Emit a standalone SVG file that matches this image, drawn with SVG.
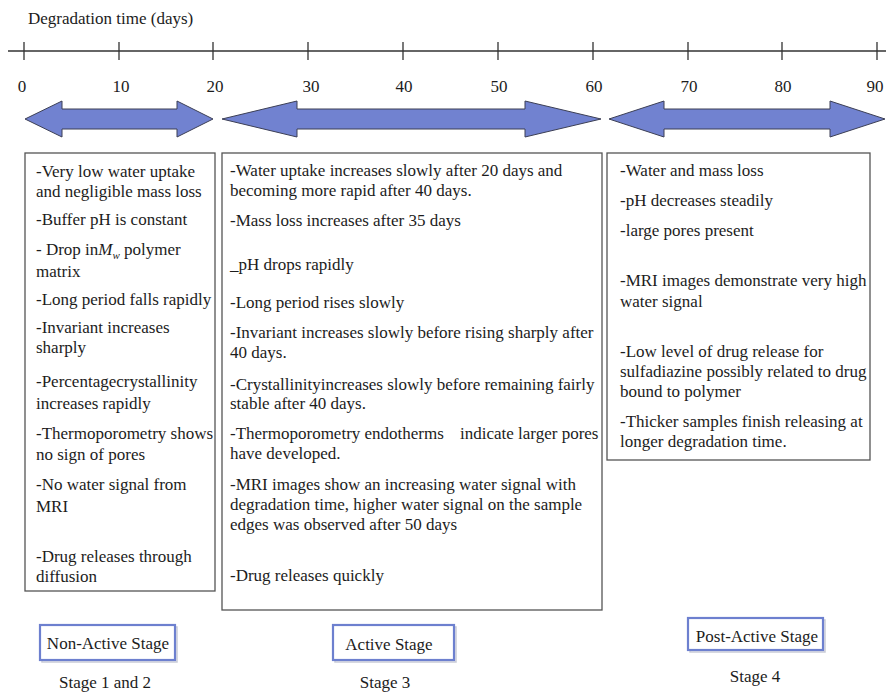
<svg xmlns="http://www.w3.org/2000/svg" width="886" height="694" viewBox="0 0 886 694">
<style>
text{font-family:"Liberation Serif","Times New Roman",serif;font-size:17px;fill:#1c1c1c}
.box{fill:#fff;stroke:#555;stroke-width:1.3}
.stage{fill:#fff;stroke:#6d80cf;stroke-width:2.2}
.shadow{fill:none;stroke:#c9cbd6;stroke-width:1.5}
.arrow{fill:#7182d0;stroke:#3c3f55;stroke-width:1}
.axis{stroke:#333;stroke-width:1.3;fill:none}
.mid{text-anchor:middle}
</style>
<rect width="886" height="694" fill="#fff"/>
<g id="axis">
<text x="28" y="24">Degradation time (days)</text>
<line class="axis" x1="8" y1="51" x2="886" y2="51"/>
<path class="axis" d="M24 42V60M119 42V60M213 42V60M308 42V60M403 42V60M498 42V60M593 42V60M688 42V60M782 42V60M877 42V60"/>
<text class="mid" x="22" y="92">0</text>
<text class="mid" x="121" y="92">10</text>
<text class="mid" x="215" y="92">20</text>
<text class="mid" x="311" y="92">30</text>
<text class="mid" x="404" y="92">40</text>
<text class="mid" x="499" y="92">50</text>
<text class="mid" x="594" y="92">60</text>
<text class="mid" x="689" y="92">70</text>
<text class="mid" x="783" y="92">80</text>
<text class="mid" x="875" y="92">90</text>
</g>
<g id="connectors">
<polygon class="arrow" points="25,119 62,101 62,109 177,109 177,101 213,119 177,137 177,129 62,129 62,137"/>
<polygon class="arrow" points="222,119 297,101 297,109 525,109 525,101 601,119 525,137 525,129 297,129 297,137"/>
<polygon class="arrow" points="609,119 664,101 664,109 830,109 830,101 885,119 830,137 830,129 664,129 664,137"/>
</g>
<g id="stage12-box">
<rect class="box" x="25" y="153" width="190" height="438"/>
<text x="36" y="177">-Very low water uptake</text>
<text x="36" y="197">and negligible mass loss</text>
<text x="36" y="225">-Buffer pH is constant</text>
<text x="36" y="255">- Drop in<tspan font-style="italic">M</tspan><tspan font-size="11" font-style="italic" dy="4">w</tspan><tspan dy="-4"> polymer</tspan></text>
<text x="36" y="277">matrix</text>
<text x="36" y="305">-Long period falls rapidly</text>
<text x="36" y="333">-Invariant increases</text>
<text x="36" y="353">sharply</text>
<text x="36" y="387">-Percentagecrystallinity</text>
<text x="36" y="409">increases rapidly</text>
<text x="36" y="439">-Thermoporometry shows</text>
<text x="36" y="460">no sign of pores</text>
<text x="36" y="490">-No water signal from</text>
<text x="36" y="512">MRI</text>
<text x="36" y="562">-Drug releases through</text>
<text x="36" y="582">diffusion</text>
</g>
<g id="stage3-box">
<rect class="box" x="222" y="153" width="380" height="457"/>
<text x="230" y="176">-Water uptake increases slowly after 20 days and</text>
<text x="230" y="196">becoming more rapid after 40 days.</text>
<text x="230" y="226">-Mass loss increases after 35 days</text>
<text x="230" y="270">_pH drops rapidly</text>
<text x="230" y="308">-Long period rises slowly</text>
<text x="230" y="338">-Invariant increases slowly before rising sharply after</text>
<text x="230" y="358">40 days.</text>
<text x="230" y="390">-Crystallinityincreases slowly before remaining fairly</text>
<text x="230" y="409">stable after 40 days.</text>
<text x="230" y="439">-Thermoporometry endotherms<tspan x="460">indicate larger pores</tspan></text>
<text x="230" y="459">have developed.</text>
<text x="230" y="490">-MRI images show an increasing water signal with</text>
<text x="230" y="510">degradation time, higher water signal on the sample</text>
<text x="230" y="530">edges was observed after 50 days</text>
<text x="230" y="581">-Drug releases quickly</text>
</g>
<g id="stage4-box">
<rect class="box" x="607" y="153" width="263" height="307"/>
<text x="620" y="176">-Water and mass loss</text>
<text x="620" y="206">-pH decreases steadily</text>
<text x="620" y="236">-large pores present</text>
<text x="620" y="286">-MRI images demonstrate very high</text>
<text x="620" y="307">water signal</text>
<text x="620" y="357">-Low level of drug release for</text>
<text x="620" y="377">sulfadiazine possibly related to drug</text>
<text x="620" y="397">bound to polymer</text>
<text x="620" y="427">-Thicker samples finish releasing at</text>
<text x="620" y="447">longer degradation time.</text>
</g>
<g id="non-active-stage">
<rect class="shadow" x="42" y="627" width="135" height="35"/>
<rect class="stage" x="40" y="625" width="135" height="35"/>
<text class="mid" x="108" y="649">Non-Active Stage</text>
<text class="mid" x="105" y="688">Stage 1 and 2</text>
</g>
<g id="active-stage">
<rect class="shadow" x="335" y="627" width="121" height="35"/>
<rect class="stage" x="333" y="625" width="121" height="35"/>
<text class="mid" x="389" y="650">Active Stage</text>
<text class="mid" x="385" y="688">Stage 3</text>
</g>
<g id="post-active-stage">
<rect class="shadow" x="690" y="620" width="135" height="32"/>
<rect class="stage" x="688" y="618" width="135" height="32"/>
<text class="mid" x="757" y="642">Post-Active Stage</text>
<text class="mid" x="755" y="682">Stage 4</text>
</g>
</svg>
